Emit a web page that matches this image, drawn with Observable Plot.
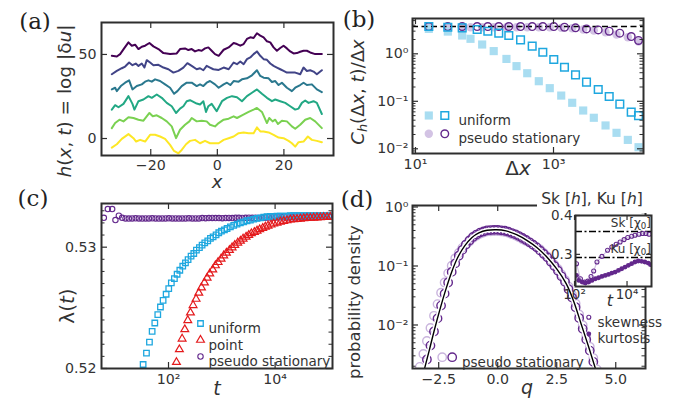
<!DOCTYPE html>
<html><head><meta charset="utf-8">
<script src="https://cdn.jsdelivr.net/npm/d3@7"></script>
<script src="https://cdn.jsdelivr.net/npm/@observablehq/plot@0.6"></script>
<style>
body{margin:0;background:#fff;}
#wrap{position:relative;width:674px;height:401px;overflow:hidden;background:#fff;font-family:"DejaVu Sans";color:#333;}
.t{position:absolute;white-space:nowrap;transform:translate(-50%,-50%);line-height:1;}
.r{transform:translate(-50%,-50%) rotate(-90deg);}
.e{transform:translate(-100%,-50%);}
.lab{font-family:"DejaVu Serif";font-size:22px;color:#222;}
sub{font-size:72%;vertical-align:-0.25em;line-height:0;}
</style></head><body><div id="wrap"></div>
<script>
// ---------- Panel (a): h(x,t) profiles (x, h) ----------
const hLine1 = [[-31.7,49.2],[-30.2,48.8],[-29.2,50.2],[-28.0,53.6],[-26.7,57.2],[-25.7,55.2],[-24.7,55.8],[-23.7,53.2],[-22.7,54.6],[-21.7,55.2],[-20.4,56.8],[-19.2,54.8],[-17.7,53.2],[-16.2,50.8],[-14.2,50.2],[-12.2,50.6],[-11.2,53.2],[-9.7,53.6],[-8.7,52.6],[-7.7,53.2],[-6.7,51.8],[-5.7,52.6],[-4.7,52.2],[-3.7,53.6],[-2.7,54.2],[-1.7,52.2],[-0.7,50.2],[0.4,49.2],[1.9,52.8],[3.4,54.2],[4.9,56.8],[5.9,56.2],[6.9,55.2],[7.9,56.2],[8.9,59.2],[9.9,60.2],[10.9,59.8],[11.9,62.6],[12.9,61.2],[13.9,60.2],[14.9,57.8],[15.9,57.2],[16.9,54.2],[17.9,52.2],[18.9,53.8],[19.9,55.2],[20.9,53.6],[21.9,51.8],[22.9,50.6],[23.9,50.8],[24.9,51.6],[25.9,52.2],[26.9,52.2],[27.9,51.2],[29.4,50.2],[31.4,50.2]];
const hLine2 = [[-31.7,38.2],[-30.2,40.2],[-28.7,41.8],[-27.7,42.8],[-26.5,45.2],[-25.5,43.6],[-24.5,44.6],[-23.7,43.2],[-22.7,44.6],[-21.9,42.2],[-21.2,46.6],[-20.2,45.2],[-19.2,43.6],[-17.7,43.8],[-16.2,42.2],[-14.7,41.2],[-13.2,39.2],[-11.7,40.2],[-10.2,42.2],[-9.0,44.8],[-7.7,43.2],[-6.2,41.2],[-5.2,41.8],[-4.2,40.6],[-3.2,43.2],[-2.2,42.2],[-1.2,41.2],[0.4,40.8],[1.9,42.2],[3.4,41.2],[4.9,45.2],[5.9,44.2],[6.9,45.8],[7.9,44.2],[8.9,47.2],[9.9,48.2],[10.9,50.2],[11.9,51.8],[12.9,49.2],[13.9,47.2],[14.9,46.8],[15.9,44.6],[16.9,43.2],[17.9,42.2],[18.9,41.2],[19.9,40.2],[20.9,39.2],[21.9,39.2],[23.4,39.2],[24.9,38.2],[25.9,42.2],[26.9,40.2],[27.9,40.6],[28.9,39.8],[29.9,38.2],[31.4,40.6]];
const hLine3 = [[-31.7,29.2],[-30.7,30.2],[-30.2,28.2],[-29.0,31.2],[-27.7,33.2],[-26.5,34.6],[-25.5,29.2],[-24.2,31.2],[-22.7,32.2],[-21.7,33.8],[-20.7,34.6],[-19.7,33.8],[-18.7,35.2],[-17.2,34.2],[-15.7,32.2],[-14.2,30.2],[-13.0,26.6],[-12.0,28.2],[-10.7,31.2],[-9.2,33.2],[-7.7,33.2],[-6.2,31.2],[-5.2,32.2],[-4.2,31.2],[-3.2,33.2],[-2.2,34.2],[-0.7,32.2],[0.4,30.2],[1.9,32.2],[2.9,33.2],[3.9,31.8],[4.9,34.2],[6.4,33.8],[7.4,35.2],[8.9,35.8],[10.4,37.6],[11.9,40.6],[12.9,37.2],[13.9,36.2],[15.4,35.8],[16.4,33.6],[17.4,34.2],[18.4,31.8],[19.4,33.2],[20.9,30.2],[22.4,28.2],[23.4,30.2],[24.9,31.8],[25.9,33.2],[26.9,31.8],[28.4,32.2],[29.9,29.2],[31.4,27.6]];
const hLine4 = [[-31.7,17.2],[-30.7,19.8],[-29.7,18.6],[-28.2,20.6],[-26.7,25.2],[-25.5,20.6],[-24.9,17.2],[-23.7,22.2],[-22.2,23.2],[-20.7,25.2],[-19.7,24.2],[-18.2,26.2],[-16.7,24.2],[-15.2,21.2],[-13.7,19.2],[-12.4,15.2],[-11.2,17.8],[-10.2,19.2],[-9.2,22.2],[-8.2,22.8],[-7.2,21.8],[-6.2,20.8],[-5.2,20.2],[-4.2,22.2],[-3.4,15.8],[-2.7,19.2],[-1.7,20.6],[-0.2,16.2],[1.4,22.2],[2.9,24.2],[4.4,25.2],[5.9,24.6],[7.4,22.2],[8.9,25.2],[10.4,27.2],[11.9,29.2],[13.4,26.6],[14.9,24.2],[16.4,22.2],[17.4,23.2],[18.9,22.2],[20.4,21.2],[21.9,19.2],[23.4,17.2],[24.4,17.8],[25.4,21.2],[26.4,22.6],[27.4,21.2],[28.9,22.2],[29.9,21.2],[31.4,14.6]];
const hLine5 = [[-31.7,6.2],[-30.7,9.2],[-29.4,11.2],[-28.2,10.2],[-26.7,12.6],[-25.2,12.2],[-23.7,11.2],[-22.2,10.6],[-20.4,15.2],[-19.4,13.2],[-18.2,13.8],[-16.7,12.2],[-15.2,10.2],[-13.7,7.2],[-12.4,0.2],[-11.2,5.2],[-9.7,8.2],[-8.4,10.2],[-7.7,12.2],[-6.2,10.2],[-4.7,10.6],[-3.2,10.2],[-2.2,8.2],[-0.7,7.2],[0.4,9.2],[1.9,11.2],[3.4,11.8],[4.9,13.2],[5.9,12.2],[7.4,13.8],[9.4,15.8],[10.9,17.2],[11.9,18.2],[13.4,15.8],[14.9,9.2],[15.6,12.2],[16.6,10.2],[17.4,11.2],[18.2,8.6],[19.4,10.6],[20.9,10.2],[22.4,7.2],[23.4,5.8],[24.9,8.2],[26.4,11.2],[27.9,12.2],[29.4,10.2],[31.4,6.2]];
const hLine6 = [[-31.7,-5.4],[-30.2,-3.4],[-28.7,-0.2],[-26.7,2.6],[-25.2,0.2],[-24.4,-1.8],[-23.2,-0.8],[-21.7,-1.8],[-20.2,2.2],[-18.7,2.2],[-17.2,1.2],[-15.7,-0.2],[-14.2,-3.8],[-13.0,-7.4],[-11.7,-8.8],[-10.7,-6.8],[-9.4,-3.4],[-8.2,-1.4],[-6.7,-0.8],[-5.2,-2.8],[-3.7,-1.4],[-2.2,-2.8],[-0.7,-2.8],[0.4,-2.8],[1.9,-0.8],[3.4,0.2],[4.9,1.2],[6.4,3.2],[7.9,3.6],[9.4,3.2],[10.9,3.2],[11.9,6.6],[12.9,4.2],[13.9,4.2],[15.4,3.6],[16.9,2.2],[18.4,0.6],[19.9,0.2],[21.4,-1.4],[22.4,-2.8],[23.4,-4.8],[24.4,-2.2],[25.9,-1.8],[27.2,1.2],[28.4,-0.8],[29.9,-1.4],[31.4,-2.2]];
const hColors = ["#440154","#414487","#2a788e","#22a884","#7ad151","#fde725"];

// ---------- Panel (b): C_h(Δx,t)/Δx ----------
const dxLate = [15.6,29.4,47.5,78.3,111.7,161,225,333,491,700,1009,1442,2084,3006,4446,6412,9141,13370,17060];
const cUniformLate = [3.75,3.63,3.52,3.24,2.99,2.72,2.43,1.97,1.45,1.08,0.76,0.52,0.36,0.253,0.177,0.126,0.087,0.059,0.050];
const cStatLate = [3.75,3.75,3.75,3.75,3.75,3.75,3.75,3.75,3.75,3.75,3.75,3.63,3.52,3.35,3.19,2.99,2.72,2.31,1.91];
const dxEarly = [15.6,29.4,47.5,62.7,92.5,136,208,291,416,612,883,1294,1866,2692,3837,5675,8185,11940,17060];
const cUniformEarly = [3.35,2.94,2.43,2.07,1.57,1.14,0.78,0.55,0.39,0.265,0.189,0.132,0.093,0.064,0.045,0.031,0.0217,0.0154,0.0108];
const cStatEarly = [3.75,3.63,3.63,3.63,3.63,3.63,3.63,3.63,3.63,3.63,3.63,3.52,3.46,3.24,3.09,2.85,2.55,2.24,1.82];
const cPlateau = [3.75];

// ---------- Panel (c): λ(t) ----------
const tUniform = [33.4,38.6,43.9,49.3,55.3,62.9,70.6,79.2,90.2,101,113,129,145,163,185,208,233,265,298,334,380,427,479,545,612,687,781,877,984,1120,1256,1450,1675,1933,2232,2576,2976,3436,3970,4580,5300,6110,7060,8150,9420,10870,12550,14500,16740,19320,22320,25760,29760,34360,39700,45800,52970,61100,70630,81500,94200,108700];
const lamUniform = [0.52033,0.52127,0.52218,0.52306,0.52375,0.52444,0.52507,0.52562,0.52612,0.52658,0.52705,0.52741,0.52777,0.5281,0.52843,0.52871,0.52898,0.52926,0.52948,0.52975,0.52997,0.53017,0.53036,0.53052,0.53072,0.53085,0.53102,0.53119,0.53132,0.53143,0.53154,0.53168,0.53179,0.5319,0.53201,0.53209,0.53218,0.53223,0.53231,0.53237,0.53242,0.53248,0.53251,0.53253,0.53253,0.53256,0.53256,0.53256,0.53256,0.53259,0.53259,0.53259,0.53259,0.53259,0.53259,0.53259,0.53259,0.53259,0.53259,0.53259,0.53259,0.53259];
const tPoint = [141,160,180,202,230,258,289,329,370,415,472,530,594,677,759,852,969,1087,1219,1390,1560,1750,1991,2234,2506,2853,3202,3592,4086,4584,5143,5855,6570,7370,8390,9420,10870,12550,14500,16740,19320,22320,25760,29760,34360,39700,45800,52970,61100,70630,81500,94200,108700];
const lamPoint = [0.52052,0.52157,0.52245,0.52322,0.52397,0.5246,0.52521,0.52573,0.52623,0.52667,0.52708,0.52747,0.52782,0.52815,0.52849,0.52876,0.52904,0.52931,0.52953,0.52975,0.52997,0.53017,0.53036,0.53052,0.53069,0.53085,0.53099,0.53113,0.53124,0.53135,0.53146,0.53157,0.53168,0.53176,0.53185,0.53193,0.53201,0.53209,0.53215,0.5322,0.53226,0.53229,0.53231,0.53234,0.53237,0.5324,0.53241,0.53242,0.53244,0.53245,0.53247,0.53248,0.53249];
const tStat = [6.12,7.27,8.77,10.1,11.7,13.5,15.6,18.0,20.8,24.1,27.8,32.1,37.1,42.8,49.5,57.1,66.0,76.2,88.0,101.7,117.4,135.6,156.6,180.9,208.9,241.3,278.7,321.9,371.8,429.4,496,573,662,764,883,1019,1177,1360,1570,1814,2095,2420,2795,3228,3728,4306,4973,5744,6634,7662,8850,10220,11810,13640,15750,18190,21010,24270,28030,32370,37390,43190,49880,57610,66540,76850,88760,102500];
const lamStat = [0.53242,0.53314,0.53314,0.53223,0.53259,0.53242,0.53237,0.53236,0.53237,0.53238,0.53237,0.53236,0.53237,0.53237,0.53238,0.53237,0.53236,0.53237,0.53237,0.53238,0.53237,0.53237,0.53236,0.53237,0.53237,0.53238,0.53237,0.53237,0.53237,0.5324,0.53239,0.5324,0.53241,0.5324,0.5324,0.53239,0.5324,0.53241,0.5324,0.53242,0.53242,0.53241,0.53242,0.53243,0.53242,0.53242,0.53241,0.53242,0.53243,0.53245,0.53245,0.53244,0.53245,0.53246,0.53245,0.53245,0.53246,0.53245,0.53251,0.53251,0.5325,0.53251,0.53252,0.53251,0.53251,0.53252,0.53251,0.53251];

// ---------- Panel (d): probability density ----------
const qLine = [-3.16,-3.1,-2.9,-2.7,-2.45,-2.2,-1.95,-1.7,-1.4,-1.1,-0.8,-0.45,-0.05,0.35,0.8,1.25,1.67,2.09,2.5,2.9,3.22,3.53,3.85,4.14,4.22];
const pLine = [0.00145,0.00182,0.00372,0.00776,0.0182,0.0398,0.0794,0.138,0.219,0.302,0.363,0.403,0.412,0.394,0.339,0.269,0.204,0.141,0.0891,0.0501,0.0251,0.0105,0.00427,0.00182,0.00145];
const qLate = [-3.0,-2.85,-2.7,-2.55,-2.4,-2.25,-2.1,-1.95,-1.8,-1.65,-1.5,-1.35,-1.2,-1.05,-0.9,-0.75,-0.6,-0.45,-0.3,-0.15,0,0.15,0.3,0.45,0.6,0.75,0.9,1.05,1.2,1.35,1.5,1.65,1.8,1.95,2.1,2.25,2.4,2.55,2.7,2.85,3.0,3.15,3.3,3.45,3.6,3.75,3.9,4.05];
const pLate = [0.0026,0.00447,0.00776,0.01294,0.0213,0.034,0.0525,0.0794,0.1107,0.149,0.1875,0.2307,0.271,0.311,0.341,0.368,0.385,0.403,0.406,0.41,0.41,0.403,0.396,0.381,0.362,0.344,0.322,0.298,0.276,0.252,0.229,0.207,0.182,0.16,0.14,0.118,0.0998,0.083,0.0668,0.0538,0.0404,0.0292,0.02,0.0131,0.0086,0.00565,0.00368,0.00237];
const qEarly = [-3.3,-3.15,-3.0,-2.85,-2.7,-2.55,-2.4,-2.25,-2.1,-1.95,-1.8,-1.65,-1.5,-1.35,-1.2,-1.05,-0.9,-0.75,-0.6,-0.45,-0.3,-0.15,0,0.15,0.3,0.45,0.6,0.75,0.9,1.05,1.2,1.35,1.5,1.65,1.8,1.95,2.1,2.25,2.4,2.55,2.7,2.85,3.0,3.15,3.3,3.45,3.6,3.75,3.9,4.05,4.2];
const pEarly = [0.00195,0.00322,0.00537,0.00889,0.0143,0.0226,0.0352,0.0525,0.0752,0.1014,0.135,0.166,0.203,0.228,0.259,0.297,0.326,0.352,0.368,0.385,0.388,0.391,0.391,0.385,0.378,0.364,0.346,0.329,0.308,0.284,0.266,0.248,0.228,0.209,0.1905,0.1667,0.146,0.1247,0.1054,0.0891,0.0718,0.0578,0.045,0.0325,0.0231,0.0151,0.0099,0.0065,0.00427,0.00275,0.00177];

// ---------- Inset: skewness and kurtosis ----------
const tSkew = [119,168,238,318,425,537,716,1107,1811,2637,3846,5445,7709,10590,15000,20040,28380,39000,52120,69660];
const skew = [0.276,0.2372,0.2286,0.2312,0.2432,0.257,0.2803,0.2949,0.3104,0.319,0.3259,0.332,0.338,0.3432,0.3466,0.3492,0.3518,0.3535,0.3535,0.3518];
const tKurt = [119,146,195,260,347,464,620,828,1107,1479,1976,2637,3524,4710,6295,8414,11220,15000,20040,26790,35810,47750,63830,78200];
const kurt = [0.246,0.2329,0.2286,0.226,0.2286,0.2329,0.2372,0.2398,0.2432,0.2458,0.2484,0.2519,0.2544,0.2587,0.263,0.2674,0.2717,0.276,0.2803,0.2829,0.282,0.2803,0.2777,0.2734];
const skChi0 = [0.359];
const kuChi0 = [0.292];

// ---------- styling helpers ----------
const INK = "#2e2e2e", TXT = "#333";
const BLUE = "#1ea7df", LBLUE = "#a9ddf1", PURP = "#63288c", LAV = "#d3c3e4", LPURP = "#c9b4dd", RED = "#e41a1c";
const wrap = document.getElementById("wrap");
const SUP = {"0":"⁰","1":"¹","2":"²","3":"³","4":"⁴","5":"⁵","6":"⁶","7":"⁷","8":"⁸","9":"⁹","-":"⁻"};
const pow10 = d => "10" + String(Math.round(Math.log10(d))).split("").map(c => SUP[c]).join("");
const mfmt = k => d => d.toFixed(k).replace("-", "−");
function logMinor(lo, hi){ const o=[]; for(let e=-4;e<=6;e++) for(let m=2;m<10;m++){ const v=m*Math.pow(10,e); if(v>lo*1.0001&&v<hi*0.9999) o.push(v);} return o; }
function xTicks(vals, fh, len, sw=1.2){ return [
  Plot.tickX(vals,{x:d=>d, insetTop: fh-len, stroke:INK, strokeWidth:sw}),
  Plot.tickX(vals,{x:d=>d, insetBottom: fh-len, stroke:INK, strokeWidth:sw})]; }
function yTicks(vals, fw, len, sw=1.2){ return [
  Plot.tickY(vals,{y:d=>d, insetRight: fw-len, stroke:INK, strokeWidth:sw}),
  Plot.tickY(vals,{y:d=>d, insetLeft: fw-len, stroke:INK, strokeWidth:sw})]; }
const style = {fontFamily:"DejaVu Sans", fontSize:"14.2px", color:TXT, background:"transparent", overflow:"visible"};
function put(svg, left, top){ svg.style.position="absolute"; svg.style.left=left+"px"; svg.style.top=top+"px"; wrap.appendChild(svg); }
function label(html, cx, cy, size, extra=""){ const d=document.createElement("div"); d.className="t "+extra; d.innerHTML=html; d.style.left=cx+"px"; d.style.top=cy+"px"; d.style.fontSize=size+"px"; wrap.appendChild(d); return d; }
const legendDot = (dx, dy, o) => Plot.dot([0], {frameAnchor:"top-left", dx, dy, ...o});
const legendText = (s, dx, dy, size=13.5) => Plot.text([s], {frameAnchor:"top-left", dx, dy, text:d=>d, textAnchor:"start", fontSize:size, fill:TXT});
const pairs = (xs, ys) => xs.map((x,i)=>[x, ys[i]]);

// ---------- (a) ----------
{
  const fw = 232, fh = 133;
  const series = [hLine1,hLine2,hLine3,hLine4,hLine5,hLine6];
  put(Plot.plot({
    width:340, height:195, marginLeft:101, marginRight:7, marginTop:22, marginBottom:40, style,
    x:{domain:[-34.8,34.9]}, y:{domain:[-10.1,69]},
    marks:[
      ...series.map((s,i)=>Plot.line(s,{x:d=>d[0], y:d=>d[1], stroke:hColors[i], strokeWidth:2})),
      Plot.frame({stroke:INK, strokeWidth:2}),
      ...xTicks([-20,0,20], fh, 6), ...yTicks([0,50], fw, 6),
      Plot.axisX([-20,0,20], {tickSize:0, tickPadding:4, tickFormat:mfmt(0), label:null}),
      Plot.axisY([0,50], {tickSize:0, tickPadding:5, label:null})
    ]}), 0, 0);
}

// ---------- (b) ----------
{
  const fw = 231, fh = 135;
  const yd = [0.00796, 5.54];
  put(Plot.plot({
    width:334, height:195, marginLeft:72, marginRight:31, marginTop:18, marginBottom:42, style,
    x:{type:"log", domain:[9.05, 20140]}, y:{type:"log", domain:yd},
    marks:[
      Plot.dot(pairs(dxEarly,cStatEarly), {x:d=>d[0], y:d=>d[1], r:4.2, fill:LAV, stroke:"none", clip:true}),
      Plot.dot(pairs(dxEarly,cUniformEarly), {x:d=>d[0], y:d=>d[1], symbol:"square", r:4.6, fill:LBLUE, stroke:"none", clip:true}),
      Plot.ruleY(cPlateau, {stroke:"#000", strokeWidth:1.5, strokeDasharray:"6,3.5"}),
      Plot.dot(pairs(dxLate,cStatLate), {x:d=>d[0], y:d=>d[1], r:3.8, fill:"none", stroke:PURP, strokeWidth:1.4, clip:true}),
      Plot.dot(pairs(dxLate,cUniformLate), {x:d=>d[0], y:d=>d[1], symbol:"square", r:4.3, fill:"none", stroke:BLUE, strokeWidth:1.5, clip:true}),
      Plot.frame({stroke:INK, strokeWidth:2}),
      ...xTicks([10,1000], fh, 6),
      ...yTicks([0.01,0.1,1], fw, 6), ...yTicks(logMinor(...yd), fw, 3.5, 1),
      Plot.axisX([10,1000], {tickSize:0, tickPadding:5, tickFormat:pow10, label:null}),
      Plot.axisY([0.01,0.1,1], {tickSize:0, tickPadding:4, tickFormat:pow10, label:null}),
      legendDot(16.3, 97, {symbol:"square", r:4.6, fill:LBLUE, stroke:"none"}),
      legendDot(32.3, 97, {symbol:"square", r:4.3, fill:"none", stroke:BLUE, strokeWidth:1.5}),
      legendText("uniform", 46, 97),
      legendDot(16.3, 115.3, {r:4.2, fill:LAV, stroke:"none"}),
      legendDot(32.3, 115.3, {r:3.8, fill:"none", stroke:PURP, strokeWidth:1.4}),
      legendText("pseudo stationary", 46, 115.3)
    ]}), 340, 0);
}

// ---------- (c) ----------
{
  const fw = 231, fh = 165;
  const minorC = [0.521,0.522,0.523,0.524,0.525,0.526,0.527,0.528,0.529,0.531,0.532,0.533];
  put(Plot.plot({
    width:340, height:206, marginLeft:101, marginRight:8, marginTop:8, marginBottom:33, style,
    x:{type:"log", domain:[5.53, 119400]}, y:{domain:[0.52, 0.5336]},
    marks:[
      Plot.dot(pairs(tStat,lamStat), {x:d=>d[0], y:d=>d[1], r:2.7, fill:"none", stroke:PURP, strokeWidth:1.1, clip:true}),
      Plot.dot(pairs(tUniform,lamUniform), {x:d=>d[0], y:d=>d[1], symbol:"square", r:3.1, fill:"none", stroke:BLUE, strokeWidth:1.3, clip:true}),
      Plot.dot(pairs(tPoint,lamPoint), {x:d=>d[0], y:d=>d[1], symbol:"triangle", r:2.9, fill:"none", stroke:RED, strokeWidth:1.2, clip:true}),
      Plot.frame({stroke:INK, strokeWidth:2}),
      ...xTicks([100,10000], fh, 6),
      ...yTicks([0.52,0.53], fw, 6), ...yTicks(minorC, fw, 3.5, 1),
      Plot.axisX([100,10000], {tickSize:0, tickPadding:5, tickFormat:pow10, label:null}),
      Plot.axisY([0.52,0.53], {tickSize:0, tickPadding:5, tickFormat:mfmt(2), label:null}),
      legendDot(99, 120, {symbol:"square", r:3.1, fill:"none", stroke:BLUE, strokeWidth:1.3}),
      legendText("uniform", 107, 120),
      legendDot(99, 136.5, {symbol:"triangle", r:2.9, fill:"none", stroke:RED, strokeWidth:1.2}),
      legendText("point", 107, 136.5),
      legendDot(99, 153, {r:2.7, fill:"none", stroke:PURP, strokeWidth:1.1}),
      legendText("pseudo stationary", 107, 153)
    ]}), 0, 195);
}

// ---------- (d) ----------
{
  const fw = 233, fh = 163;
  const yd = [0.00183, 1.06];
  put(Plot.plot({
    width:334, height:206, marginLeft:72, marginRight:29, marginTop:10, marginBottom:33, style,
    x:{domain:[-3.61, 6.26]}, y:{type:"log", domain:yd},
    marks:[
      Plot.dot(pairs(qEarly,pEarly), {x:d=>d[0], y:d=>d[1], r:4.2, fill:"none", stroke:LPURP, strokeWidth:1.4, clip:true}),
      Plot.dot(pairs(qLate,pLate), {x:d=>d[0], y:d=>d[1], r:4.2, fill:"none", stroke:PURP, strokeWidth:1.4, clip:true}),
      Plot.line(pairs(qLine,pLine), {x:d=>d[0], y:d=>d[1], stroke:"white", strokeWidth:4.5, curve:"catmull-rom", clip:true}),
      Plot.line(pairs(qLine,pLine), {x:d=>d[0], y:d=>d[1], stroke:"#000", strokeWidth:1.4, curve:"catmull-rom", clip:true}),
      Plot.frame({stroke:INK, strokeWidth:2}),
      ...xTicks([-2.5,0,2.5,5], fh, 6),
      ...yTicks([0.01,0.1,1], fw, 6), ...yTicks(logMinor(...yd), fw, 3.5, 1),
      Plot.axisX([-2.5,0,2.5,5], {tickSize:0, tickPadding:5, tickFormat:mfmt(1), label:null}),
      Plot.axisY([0.01,0.1,1], {tickSize:0, tickPadding:4, tickFormat:pow10, label:null}),
      legendDot(29.7, 151.7, {r:4.2, fill:"none", stroke:LPURP, strokeWidth:1.4}),
      legendDot(39.7, 151.7, {r:4.2, fill:"none", stroke:PURP, strokeWidth:1.4}),
      legendText("pseudo stationary", 49.5, 151.7),
      legendDot(176.3, 111.7, {r:2, fill:"none", stroke:PURP, strokeWidth:1.1}),
      legendText("skewness", 185, 111.7),
      legendDot(176.3, 128.3, {r:2.4, fill:PURP, stroke:"none"}),
      legendText("kurtosis", 185, 128.3)
    ]}), 340, 195);
}

// white box behind inset title
{
  const b = document.createElement("div");
  Object.assign(b.style, {position:"absolute", left:"537px", top:"188px", width:"111px", height:"25px", background:"#fff"});
  wrap.appendChild(b);
}

// ---------- inset ----------
{
  const fw = 76, fh = 71;
  put(Plot.plot({
    width:118, height:122, marginLeft:38, marginRight:4, marginTop:27, marginBottom:24, style:{...style, fontSize:"13.5px"},
    x:{type:"log", domain:[109, 85500]}, y:{domain:[0.2173, 0.4]},
    marks:[
      Plot.frame({fill:"white"}),
      Plot.ruleY(skChi0, {stroke:"#000", strokeWidth:1.6, strokeDasharray:"7,2.5,2,2.5"}),
      Plot.ruleY(kuChi0, {stroke:"#000", strokeWidth:1.6, strokeDasharray:"7,2.5,2,2.5"}),
      Plot.line(pairs(tKurt,kurt), {x:d=>d[0], y:d=>d[1], stroke:LAV, strokeWidth:3.5, clip:true}),
      Plot.line(pairs(tSkew,skew), {x:d=>d[0], y:d=>d[1], stroke:LAV, strokeWidth:1.2, clip:true}),
      Plot.dot(pairs(tSkew,skew), {x:d=>d[0], y:d=>d[1], r:2, fill:"none", stroke:PURP, strokeWidth:1.1, clip:true}),
      Plot.dot(pairs(tKurt,kurt), {x:d=>d[0], y:d=>d[1], r:2.4, fill:PURP, stroke:"none", clip:true}),
      Plot.frame({stroke:INK, strokeWidth:2}),
      ...xTicks([100,10000], fh, 5),
      ...yTicks([0.3,0.4], fw, 5),
      Plot.axisX([100,10000], {tickSize:0, tickPadding:3, tickFormat:pow10, label:null}),
      Plot.axisY([0.3,0.4], {tickSize:0, tickPadding:3, tickFormat:mfmt(1), label:null})
    ]}), 537, 188);
}

// ---------- text labels ----------
label("(a)", 35, 21, 23, "lab");
label("(b)", 359, 19, 23, "lab");
label("(c)", 33, 198, 23, "lab");
label("(d)", 357, 199, 23, "lab");
label("<i>h</i>(<i>x</i>, <i>t</i>) = log |δ<i>u</i>|", 65, 101, 18.5, "r");
label("<i>x</i>", 217, 182, 18);
label("<i>C</i><sub><i>h</i></sub>(Δ<i>x</i>, <i>t</i>)/Δ<i>x</i>", 358, 92, 18, "r");
label("Δ<i>x</i>", 518, 168, 20);
label("λ(<i>t</i>)", 67, 306, 20, "r");
label("<i>t</i>", 217, 388, 19);
label("probability density", 355, 302, 16.5, "r");
label("<i>q</i>", 527, 387, 19);
label("Sk [<i>h</i>], Ku [<i>h</i>]", 592, 200, 15.5);
label("<i>t</i>", 610, 301, 16);
label("Sk [χ<sub>0</sub>]", 651, 223, 12, "e");
label("Ku [χ<sub>0</sub>]", 651, 249, 12, "e");
</script></body></html>
